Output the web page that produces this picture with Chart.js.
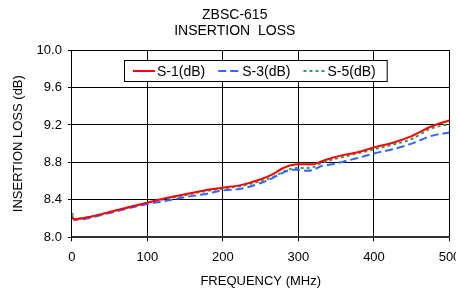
<!DOCTYPE html>
<html>
<head>
<meta charset="utf-8">
<script src="https://cdn.jsdelivr.net/npm/chart.js@4.4.0/dist/chart.umd.min.js"></script>
<style>
  body { margin: 0; background: #fff; }
  canvas { display: block; }
</style>
</head>
<body>
<canvas id="chart-area" width="456" height="289"></canvas>
<script>
// frequency (MHz)
var freq = [0.3, 3, 10, 25, 50, 75, 100, 125, 150, 175, 200, 225, 250, 265, 280, 290,
            300, 310, 320, 330, 345, 360, 380, 400, 425, 450, 475, 500];
var s1 = [8.22, 8.19, 8.20, 8.22, 8.27, 8.32, 8.37, 8.42, 8.46, 8.50, 8.53, 8.56, 8.62, 8.67, 8.74, 8.77,
          8.78, 8.78, 8.78, 8.81, 8.85, 8.88, 8.91, 8.96, 9.01, 9.08, 9.18, 9.25];
var s3 = [8.22, 8.19, 8.19, 8.21, 8.26, 8.31, 8.355, 8.39, 8.43, 8.46, 8.50, 8.52, 8.58, 8.63, 8.69, 8.72,
          8.72, 8.71, 8.72, 8.76, 8.78, 8.81, 8.85, 8.895, 8.94, 9.00, 9.08, 9.12];
var s5 = [8.26, 8.19, 8.20, 8.22, 8.27, 8.32, 8.37, 8.41, 8.45, 8.49, 8.52, 8.55, 8.60, 8.64, 8.70, 8.73,
          8.74, 8.74, 8.75, 8.79, 8.83, 8.86, 8.90, 8.94, 8.99, 9.05, 9.16, 9.21];
var seriesNames = ['S-1(dB)', 'S-3(dB)', 'S-5(dB)'];
var titleLines = ['ZBSC-615', 'INSERTION  LOSS'];

var FONT = "'Liberation Sans', Arial, sans-serif";

function pts(vals) {
  return vals.map(function(v, i) { return {x: freq[i], y: v}; });
}

// legend drawn in a box inside the plot area
var boxLegend = {
  id: 'boxLegend',
  afterLayout: function(chart) {
    // nudge the title a little to the right like the original
    if (chart.titleBlock) { chart.titleBlock.left += 13; }
  },
  afterDraw: function(chart) {
    var ctx = chart.ctx, area = chart.chartArea;
    var sets = chart.data.datasets;
    ctx.save();
    ctx.font = '14px ' + FONT;
    var padL = 9, padR = 11, sample = 22, gap = 2, itemGap = 13;
    var w = padL + padR;
    sets.forEach(function(ds, i) {
      w += sample + gap + ctx.measureText(ds.label).width;
      if (i < sets.length - 1) w += itemGap;
    });
    var left = 124, top = area.top + 10.5, h = 21;
    ctx.fillStyle = '#fff';
    ctx.fillRect(left, top, w, h);
    ctx.strokeStyle = '#000';
    ctx.lineWidth = 1;
    ctx.strokeRect(left + 0.5, top, w, h);
    var x = left + padL, cy = top + h / 2;
    sets.forEach(function(ds) {
      ctx.beginPath();
      ctx.setLineDash(ds.borderDash || []);
      ctx.strokeStyle = ds.borderColor;
      ctx.lineWidth = 2;
      ctx.moveTo(x, cy);
      ctx.lineTo(x + sample, cy);
      ctx.stroke();
      ctx.setLineDash([]);
      x += sample + gap;
      ctx.fillStyle = '#000';
      ctx.textBaseline = 'middle';
      ctx.fillText(ds.label, x, cy + 1);
      x += ctx.measureText(ds.label).width + itemGap;
    });
    ctx.restore();
  }
};

var ctx = document.getElementById('chart-area').getContext('2d');
var config = {
  type: 'line',
  data: {
    datasets: [{
      label: seriesNames[0],
      data: pts(s1),
      borderColor: '#ff0000',
      borderWidth: 2
    }, {
      label: seriesNames[1],
      data: pts(s3),
      borderColor: '#3366ff',
      borderWidth: 2,
      borderDash: [8, 4]
    }, {
      label: seriesNames[2],
      data: pts(s5),
      borderColor: '#339966',
      borderWidth: 2,
      borderDash: [3, 3]
    }]
  },
  options: {
    responsive: false,
    animation: false,
    layout: { padding: { left: 7, right: 6.5, top: 0, bottom: 0 } },
    elements: {
      point: { radius: 0 },
      line: { cubicInterpolationMode: 'monotone', fill: false }
    },
    plugins: {
      legend: { display: false },
      tooltip: { enabled: false },
      title: {
        display: true,
        text: titleLines,
        color: '#000',
        font: { family: FONT, size: 14, weight: 'normal', lineHeight: 1.143 },
        padding: { top: 7, bottom: 11 }
      }
    },
    scales: {
      x: {
        type: 'linear',
        min: 0,
        max: 500,
        afterFit: function(scale) {
          scale.paddingRight = 0;
          scale.height = 51.7;
        },
        ticks: {
          stepSize: 100,
          color: '#000',
          padding: 8,
          maxRotation: 0,
          font: { family: FONT, size: 13 }
        },
        grid: { color: '#000', lineWidth: 1, tickLength: 4, tickColor: '#000' },
        border: { color: '#333', width: 2 },
        title: {
          display: true,
          text: 'FREQUENCY (MHz)',
          color: '#000',
          font: { family: FONT, size: 13 },
          padding: { top: 4, bottom: 0 }
        }
      },
      y: {
        min: 8.0,
        max: 10.0,
        ticks: {
          stepSize: 0.4,
          color: '#000',
          padding: 6,
          font: { family: FONT, size: 13 },
          callback: function(v) { return Number(v).toFixed(1); }
        },
        grid: { color: '#000', lineWidth: 1, tickLength: 4, tickColor: '#000' },
        border: { color: '#000', width: 1 },
        title: {
          display: true,
          text: 'INSERTION LOSS (dB)',
          color: '#000',
          font: { family: FONT, size: 13 },
          padding: { top: 4, bottom: 4 }
        }
      }
    }
  },
  plugins: [boxLegend]
};
window.myLine = new Chart(ctx, config);
</script>
</body>
</html>
